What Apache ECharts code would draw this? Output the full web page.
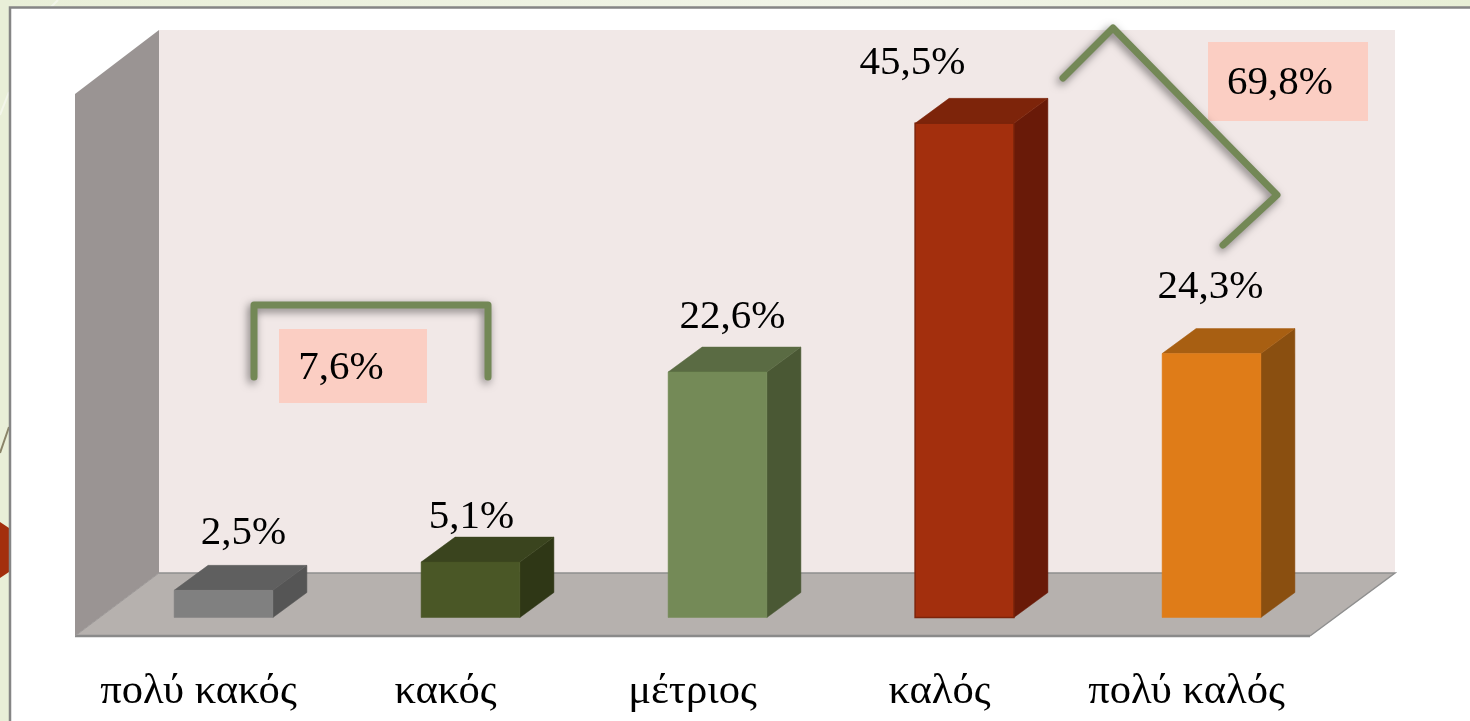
<!DOCTYPE html>
<html>
<head>
<meta charset="utf-8">
<style>html,body{margin:0;padding:0;background:#fff}#c{width:1470px;height:721px}</style>
<script src="https://cdn.jsdelivr.net/npm/echarts@6/dist/echarts.min.js"></script>
</head>
<body>
<div id="c"></div>
<script>
const categories = ['πολύ κακός', 'κακός', 'μέτριος', 'καλός', 'πολύ καλός'];
const values = [2.5, 5.1, 22.6, 45.5, 24.3];
const valueLabels = ['2,5%', '5,1%', '22,6%', '45,5%', '24,3%'];
const frontColors = ['#808080', '#4a5726', '#748a57', '#a32f0d', '#df7c18'];
const topColors = ['#5f5f5f', '#3a441e', '#5a6b43', '#7d240a', '#a85f12'];
const sideColors = ['#555555', '#2f3716', '#4a5834', '#691a08', '#8a4f10'];
const edgeColors = ['#808080', '#4a5726', '#748a57', '#7d240a', '#df7c18'];
const edgeWidths = [0.5, 0.5, 0.5, 1.5, 0.5];
const labelShift = [[20, -57], [1, -45], [15, -55], [-52, -60], [-1, -66]];

const FONT = '"Liberation Serif","Times New Roman",serif';
const DX = 34, DY = -25, BASE_X = 25, BASE_Y = -18.5;

const chart = echarts.init(document.getElementById('c'), null, {renderer: 'canvas'});

function poly(points, fill, z) {
  return {type: 'polygon', z: z, silent: true, shape: {points}, style: {fill}};
}
function seg(points, stroke, w, z) {
  return {type: 'polyline', z: z, silent: true, shape: {points},
    style: {stroke, lineWidth: w, fill: 'none'}};
}
function bracket(points) {
  return {type: 'polyline', z: 20, silent: true, shape: {points},
    style: {stroke: '#738856', lineWidth: 7, fill: 'none', lineCap: 'round', lineJoin: 'round',
      shadowBlur: 8, shadowColor: 'rgba(0,0,0,0.5)', shadowOffsetX: -2, shadowOffsetY: 3}};
}
function box(x, y, w, h, label, cx, cy) {
  return [
    {type: 'rect', z: 18, silent: true, shape: {x, y, width: w, height: h}, style: {fill: '#fbcec3'}},
    {type: 'text', z: 22, silent: true, style: {x: cx, y: cy, text: label, fill: '#000',
      font: '41px ' + FONT, textAlign: 'center', textVerticalAlign: 'middle'}}
  ];
}

const graphicElements = [
  {type: 'rect', z: 0, silent: true, shape: {x: 0, y: 0, width: 1470, height: 8},
    style: {fill: {type: 'linear', x: 0, y: 0, x2: 1, y2: 0, colorStops: [
      {offset: 0, color: '#e9efd8'}, {offset: 0.6, color: '#f1f4e8'}, {offset: 1, color: '#e8efd6'}]}}},
  {type: 'rect', z: 0, silent: true, shape: {x: 0, y: 0, width: 10, height: 721}, style: {fill: '#e9efd8'}},
  seg([[0, 115], [9, 92]], '#f3f6ea', 2, 1),
  seg([[50, 8], [58, 0]], '#f3f6ea', 2, 1),
  seg([[0, 453], [9, 427]], '#8a8468', 2, 1),
  poly([[0, 522], [9, 528], [9, 572], [0, 578]], '#a32f0d', 1),
  seg([[10, 721], [10, 7.5], [1470, 7.5]], '#858585', 2.5, 1),

  poly([[75, 94], [159, 30], [159, 573], [75, 636]], '#9a9493', 1),
  poly([[159, 30], [1395, 30], [1395, 573], [159, 573]], '#f1e8e7', 1),
  poly([[159, 573], [1395, 573], [1310, 636], [75, 636]], '#b6b1ae', 1),
  seg([[159, 573], [1395, 573], [1310, 636]], '#8f8f8f', 1.5, 2),
  seg([[75, 636], [1310, 636]], '#8a8a8a', 2.5, 2),
  seg([[75, 636], [159, 573]], '#9b9796', 1, 2),

  bracket([[254, 377], [254, 305], [488, 305], [488, 377]]),
  bracket([[1063, 78], [1113, 28], [1277, 195], [1223, 245]]),
  ...box(1208, 42, 160, 79, '69,8%', 1280, 83),
  ...box(279, 329, 148, 74, '7,6%', 341, 368)
];

chart.setOption({
  animation: false,
  backgroundColor: '#fff',
  graphic: {elements: graphicElements},
  grid: {left: 75, width: 1235, top: 93, height: 543},
  xAxis: {
    type: 'category', data: categories,
    axisLine: {show: false}, axisTick: {show: false}, splitLine: {show: false},
    axisLabel: {color: '#000', fontFamily: FONT, fontSize: 42.6, margin: 34, interval: 0}
  },
  yAxis: {type: 'value', min: 0, max: 50, show: false, splitLine: {show: false}},
  series: [{
    type: 'custom',
    z: 5,
    clip: false,
    encode: {x: 0, y: 1},
    data: values.map((v, i) => [i, v]),
    renderItem(params, api) {
      const i = api.value(0);
      const top = api.coord([i, api.value(1)]);
      const bottom = api.coord([i, 0]);
      const w = api.size([1, 0])[0] * 0.4;
      const x0 = top[0] - w / 2 + BASE_X, x1 = x0 + w;
      const y0 = top[1] + BASE_Y, y1 = bottom[1] + BASE_Y;
      const shape = (pts, fill, stroke, lw) => ({type: 'polygon', shape: {points: pts},
        style: {fill, stroke: stroke || fill, lineWidth: lw || 0.5}});
      return {type: 'group', children: [
        shape([[x1, y0], [x1 + DX, y0 + DY], [x1 + DX, y1 + DY], [x1, y1]], sideColors[i]),
        shape([[x0, y0], [x0 + DX, y0 + DY], [x1 + DX, y0 + DY], [x1, y0]], topColors[i]),
        shape([[x0, y0], [x1, y0], [x1, y1], [x0, y1]], frontColors[i], edgeColors[i], edgeWidths[i]),
        {type: 'text', style: {
          x: (x0 + x1) / 2 + labelShift[i][0], y: y0 + labelShift[i][1],
          text: valueLabels[i], fill: '#000', font: '41px ' + FONT,
          textAlign: 'center', textVerticalAlign: 'middle'}}
      ]};
    }
  }]
});
</script>
</body>
</html>
